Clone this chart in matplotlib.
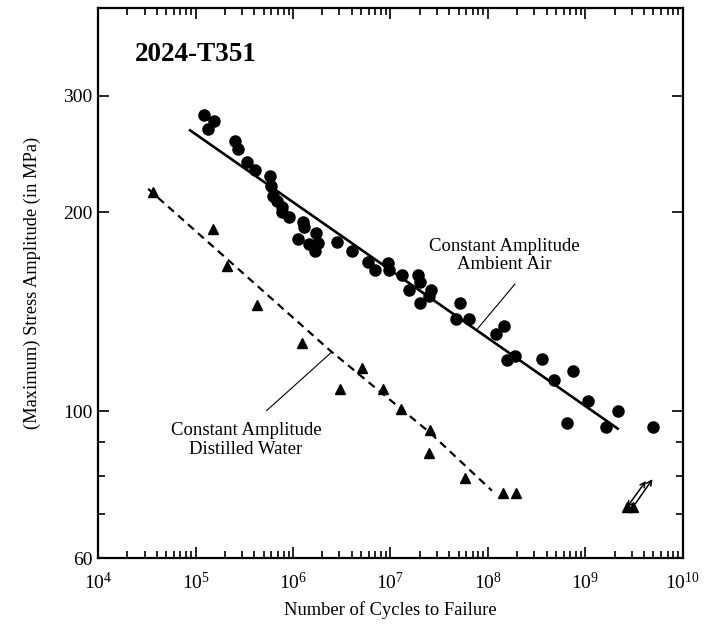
import numpy as np
import matplotlib
matplotlib.use('Agg')
import matplotlib.pyplot as plt
from matplotlib.ticker import LogLocator, FixedLocator, NullFormatter, LogFormatterSciNotation

plt.rcParams['font.family'] = ['Liberation Serif', 'DejaVu Serif']
plt.rcParams['mathtext.fontset'] = 'stix'

# Constant amplitude, ambient air (cycles, MPa)
air_cycles = [1.23e5, 1.56e5, 1.33e5, 2.56e5, 2.70e5, 3.38e5, 4.12e5, 5.81e5, 5.88e5, 6.28e5,
              6.81e5, 7.66e5, 7.80e5, 9.06e5, 1.26e6, 1.31e6, 1.72e6, 1.12e6, 1.82e6, 1.47e6,
              1.68e6, 2.85e6, 4.03e6, 5.92e6, 6.93e6, 9.49e6, 9.72e6, 1.33e7, 1.93e7, 2.01e7,
              1.56e7, 2.58e7, 2.50e7, 2.01e7, 5.16e7, 4.75e7, 6.34e7, 1.45e8, 1.22e8, 1.56e8,
              1.91e8, 3.56e8, 7.45e8, 4.78e8, 1.07e9, 2.17e9, 6.42e8, 1.65e9, 4.92e9]
air_stress = [281, 275, 267, 256, 249, 238, 232, 227, 219, 212,
              208, 204, 200.5, 197, 193.4, 190, 186.2, 182.4, 179.9, 178.8,
              175.0, 180.4, 174.8, 168.2, 163.8, 167.6, 163.8, 160.6, 160.6, 156.9,
              152.8, 152.8, 149.3, 145.9, 145.7, 138.1, 137.9, 134.5, 130.9, 119.7,
              121.3, 120.2, 115.0, 111.7, 103.6, 100.3, 96.1, 94.6, 94.6]

# fitted line, ambient air
air_fit_cycles = [8.8e4, 2.15e9]
air_fit_stress = [266, 94.2]

# Constant amplitude, distilled water
water_cycles = [3.64e4, 1.51e5, 2.10e5, 4.27e5, 1.24e6, 3.03e6, 5.1e6, 8.4e6, 1.28e7,
                2.54e7, 2.48e7, 5.8e7, 1.43e8, 1.94e8]
water_stress = [215, 189, 166, 145, 126.7, 108.3, 116.2, 108.3, 101,
                93.6, 86.4, 79.2, 75.4, 75.4]

# trend curve, distilled water
water_fit_cycles = [3.26e4, 2.39e6, 2.54e7, 1.1e8]
water_fit_stress = [217, 123.7, 92.9, 75.9]

# run-outs (no failure)
runout_cycles = [2.67e9, 3.07e9]
runout_stress = [71.6, 71.6]
runout_tip_cycles = [4.2e9, 4.9e9]
runout_tip_stress = [78.5, 79.0]

x_major = [1e4, 1e5, 1e6, 1e7, 1e8, 1e9, 1e10]
y_major = [60, 100, 200, 300]
y_minor = [70, 80, 90]

fig = plt.figure(figsize=(7.06, 6.30), dpi=100)
ax = fig.add_axes([0.139, 0.114, 0.828, 0.873])

ax.plot(air_fit_cycles, air_fit_stress, '-', color='k', lw=1.9)
ax.plot(air_cycles, air_stress, 'o', color='k', ms=8, mec='k')
ax.plot(water_fit_cycles, water_fit_stress, color='k', lw=1.6, dashes=(3.5, 2.5))
ax.plot(water_cycles, water_stress, '^', color='k', ms=7)
ax.plot(runout_cycles, runout_stress, '^', color='k', ms=7)

# run-out arrows
ax.annotate('', xy=(runout_tip_cycles[0], runout_tip_stress[0]), xytext=(runout_cycles[0], runout_stress[0]),
            arrowprops=dict(arrowstyle='<->', color='k', lw=1.1, shrinkA=0, shrinkB=0, mutation_scale=9))
ax.annotate('', xy=(runout_tip_cycles[1], runout_tip_stress[1]), xytext=(runout_cycles[1], runout_stress[1]),
            arrowprops=dict(arrowstyle='->', color='k', lw=1.1, shrinkA=0, shrinkB=0, mutation_scale=9))

# labels with leader lines
ax.plot([7.89e7, 1.89e8], [133.5, 155.7], color='k', lw=0.8)
ax.text(1.49e8, 171.9, 'Constant Amplitude\nAmbient Air', ha='center', va='center',
        fontsize=13.5, linespacing=1.1)
ax.plot([5.37e5, 2.49e6], [100.3, 122.9], color='k', lw=0.8)
ax.text(3.3e5, 90.6, 'Constant Amplitude\nDistilled Water', ha='center', va='center',
        fontsize=13.5, linespacing=1.15)

ax.text(0.063, 0.915, '2024-T351', transform=ax.transAxes, fontsize=19.5, fontweight='bold',
        ha='left', va='center')

ax.set_xscale('log')
ax.set_yscale('log')
ax.set_xlim(1e4, 1e10)
ax.set_ylim(60, 407)

ax.xaxis.set_major_locator(FixedLocator(x_major))
ax.xaxis.set_minor_locator(LogLocator(base=10, subs=np.arange(2, 10), numticks=12))
ax.xaxis.set_major_formatter(LogFormatterSciNotation())
ax.xaxis.set_minor_formatter(NullFormatter())
ax.yaxis.set_major_locator(FixedLocator(y_major))
ax.yaxis.set_minor_locator(FixedLocator(y_minor))
ax.set_yticklabels([str(v) for v in y_major])
ax.yaxis.set_minor_formatter(NullFormatter())

ax.tick_params(which='both', direction='in', top=True, right=True, labelsize=14, width=1.2)
ax.tick_params(which='major', length=8)
ax.tick_params(which='minor', length=5)
ax.tick_params(axis='x', which='major', pad=10)
ax.tick_params(axis='y', which='major', pad=4)
for s in ax.spines.values():
    s.set_linewidth(1.6)

ax.set_xlabel('Number of Cycles to Failure', fontsize=13.3, labelpad=6)
ax.set_ylabel('(Maximum) Stress Amplitude (in MPa)', fontsize=13.3, labelpad=16)

fig.savefig('out.png', dpi=100)
